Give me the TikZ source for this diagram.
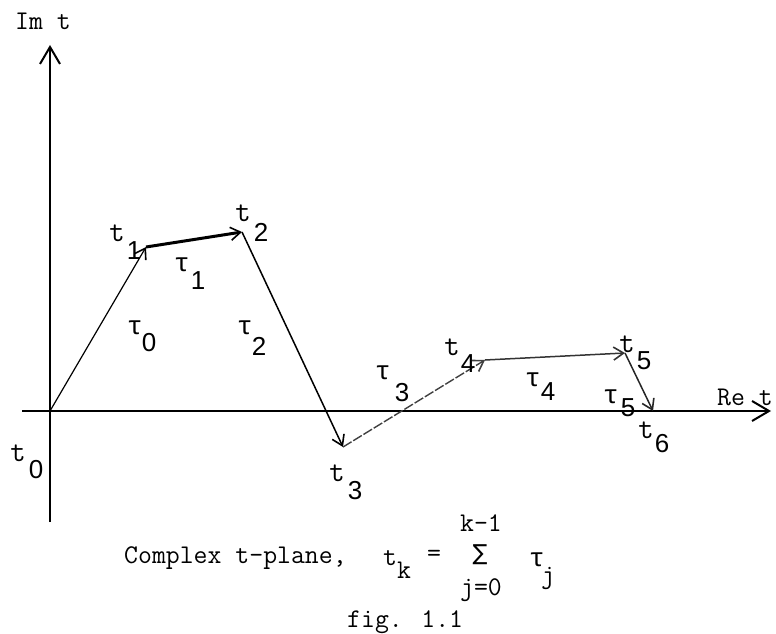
\documentclass[tikz,border=0pt]{standalone}
\usepackage{fontspec}
\newfontfamily\digitfont{Liberation Sans}
\newfontfamily\greekfont{Liberation Mono}
\newfontfamily\symfont{DejaVu Sans}
\usetikzlibrary{arrows.meta}
\begin{document}
\begin{tikzpicture}[x=1pt,y=-1pt,
  lbl/.style={inner sep=0pt,font=\ttfamily\fontsize{27}{27}\selectfont},
  pt/.style={inner sep=0pt,font=\ttfamily\fontsize{30}{30}\selectfont},
  gr/.style={inner sep=0pt,font=\greekfont\fontsize{26}{26}\selectfont},
  sub/.style={inner sep=0pt,font=\digitfont\fontsize{26}{26}\selectfont},
  axis/.style={line width=2.6pt,-{Straight Barb[length=17pt,width=20pt,line width=2pt]}},
  vec/.style={-{Straight Barb[length=10pt,width=13pt,line width=1.6pt]}}]
\useasboundingbox (0,0) rectangle (776,634);
% axes
\coordinate (ytop) at (50,45);
\coordinate (ybot) at (50,522);
\coordinate (xl) at (22,411);
\coordinate (xr) at (771,411);
\draw[axis] (ybot) -- (ytop);
\draw[axis] (xl) -- (xr);
% points
\coordinate (t0) at (50,411);
\coordinate (t1) at (146,247);
\coordinate (t2) at (242,232);
\coordinate (t3) at (343,447);
\coordinate (t4) at (485,360);
\coordinate (t5) at (625,353);
\coordinate (t6) at (653,411);
% vectors
\draw[vec,line width=1.2pt] (t0) -- (t1);
\draw[vec,line width=3pt] (t1) -- (t2);
\draw[vec,line width=1.5pt] (t2) -- (t3);
\draw[vec,line width=1.4pt,black!75,dash pattern=on 10pt off 2pt] (t3) -- (t4);
\draw[vec,line width=1.5pt,black!80] (t4) -- (t5);
\draw[vec,line width=1.5pt,black!85] (t5) -- (t6);
% axis labels
\node[lbl,anchor=base west] (im) at (15,30) {Im t};
\node[lbl,anchor=base west] (re) at (717,405) {Re t};
% point labels
\node[pt] (lt0) at (18,453) {t};   \node[sub] (lt0s) at (36,470) {0};
\node[pt] (lt1) at (117,233) {t};  \node[sub] (lt1s) at (134,251) {1};
\node[pt] (lt2) at (243,213) {t};  \node[sub] (lt2s) at (261,232) {2};
\node[pt] (lt3) at (337,473) {t};  \node[sub] (lt3s) at (355,491) {3};
\node[pt] (lt4) at (452,347) {t};  \node[sub] (lt4s) at (468,364) {4};
\node[pt] (lt5) at (627,344) {t};  \node[sub] (lt5s) at (644,361) {5};
\node[pt] (lt6) at (646,430) {t};  \node[sub] (lt6s) at (662,444) {6};
% tau labels
\node[gr] (ta0) at (135,328) {τ};  \node[sub] (ta0s) at (149,343) {0};
\node[gr] (ta1) at (182,265) {τ};  \node[sub] (ta1s) at (198,281) {1};
\node[gr] (ta2) at (245,328) {τ};  \node[sub] (ta2s) at (259,346) {2};
\node[gr] (ta3) at (383,373) {τ};  \node[sub] (ta3s) at (402,393) {3};
\node[gr] (ta4) at (533,380) {τ};  \node[sub] (ta4s) at (548,392) {4};
\node[gr] (ta5) at (611,397) {τ};  \node[sub] (ta5s) at (628,408) {5};
% caption
\node[lbl,anchor=base west] (cap) at (124,563) {Complex t-plane,};
\node[lbl] (ct) at (390,558) {t};
\node[lbl] (ck) at (404,570) {k};
\node[lbl] (ceq) at (434,556) {=};
\node[inner sep=0pt,font=\symfont\fontsize{22}{22}\selectfont] (csum) at (480,555) {∑};
\node[lbl] (cup) at (481,523) {k-1};
\node[lbl] (clo) at (481,590) {j=0};
\node[gr] (ctau) at (537,560) {τ};
\node[lbl] (cj) at (548,578) {j};
\node[lbl,anchor=base west] (fig) at (347,627) {fig. 1.1};
\end{tikzpicture}
\end{document}
